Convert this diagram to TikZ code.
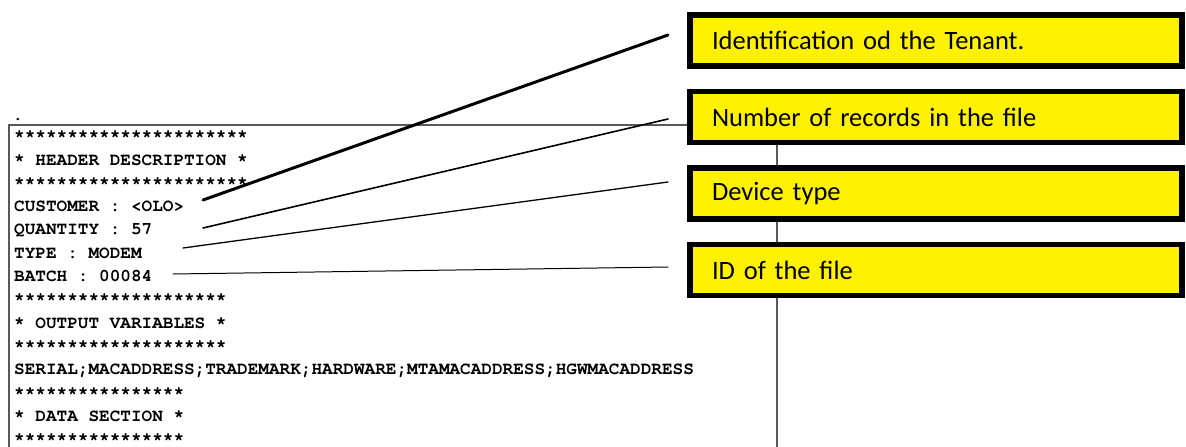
\documentclass[tikz,border=0pt]{standalone}
\usepackage{fontspec}
\setmainfont{Carlito}
\setmonofont{TeX Gyre Cursor}
\usetikzlibrary{positioning}

\begin{document}
\begin{tikzpicture}[
  x=1pt, y=-1pt,
  node distance=20pt,
  note/.style={draw, line width=5.5pt, fill=yellow, minimum height=51pt,
    text width=448pt, inner xsep=22pt, align=left,
    font=\fontsize{26.5}{30}\selectfont},
  code/.style={anchor=base west, inner sep=0pt,
    font=\ttfamily\bfseries\fontsize{17.7}{20}\selectfont},
  lead/.style={line cap=round}
]
\useasboundingbox (0,0) rectangle (1186,447);

% page of the export file
\draw[black!65, line width=1.3pt] (9,447) -- (9,125) -- (777,125) -- (777,447);
\node[code] (dot) at (12.5,120) {.};
\foreach \txt [count=\i from 0] in {
  **********************,
  * HEADER DESCRIPTION *,
  **********************,
  CUSTOMER : <OLO>,
  QUANTITY : 57,
  TYPE : MODEM,
  BATCH : 00084,
  ********************,
  * OUTPUT VARIABLES *,
  ********************,
  SERIAL;MACADDRESS;TRADEMARK;HARDWARE;MTAMACADDRESS;HGWMACADDRESS,
  ****************,
  * DATA SECTION *,
  ****************}
  \node[code] (r\i) at (14,141.7+23.3*\i) {\txt};

% yellow call-outs
\node[note] (tenant) at (936,40.5) {Identification od the Tenant.};
\node[note, below=of tenant] (records) {Number of records in the file};
\node[note, below=of records] (device) {Device type};
\node[note, below=of device] (batchid) {ID of the file};

% leader lines
\coordinate (c1) at (203,200);
\coordinate (c2) at (203,228);
\coordinate (c3) at (183,248);
\coordinate (c4) at (173,274);
\coordinate (e1) at (668,35);
\coordinate (e2) at (668,119);
\coordinate (e3) at (668,182);
\coordinate (e4) at (668,267);
\draw[lead, line width=3pt] (c1) -- (e1);
\draw[lead, line width=1.6pt] (c2) -- (e2);
\draw[lead, line width=1.3pt] (c3) -- (e3);
\draw[lead, line width=1pt] (c4) -- (e4);
\end{tikzpicture}
\end{document}
